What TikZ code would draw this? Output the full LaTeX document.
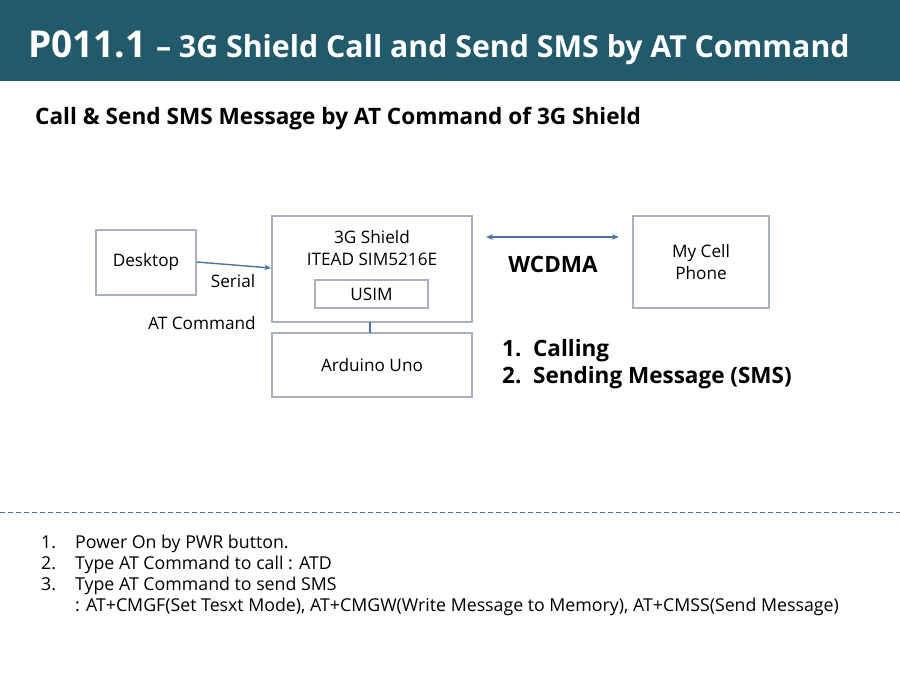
\documentclass[tikz,border=0pt]{standalone}
\usepackage{fontspec}
\setmainfont{Open Sans}
\usetikzlibrary{arrows.meta}
\definecolor{band}{HTML}{235A6B}
\definecolor{boxline}{HTML}{A8B0C0}
\definecolor{arr}{HTML}{4A72A8}
\definecolor{sepcol}{HTML}{4A6E96}
\tikzset{
  blk/.style={draw=boxline, line width=1.8pt, fill=white, inner sep=0pt},
  lbl/.style={inner sep=0pt, font=\fontsize{17.2}{21.5}\selectfont, align=center},
  conn/.style={draw=arr, line width=1.4pt},
  bold/.style={inner sep=0pt, font=\bfseries\fontsize{22.5}{27}\selectfont},
  stepitem/.style={inner sep=0pt, anchor=base west, font=\fontsize{17.75}{21}\selectfont}
}
\begin{document}
\begin{tikzpicture}[x=1pt,y=-1pt]
\useasboundingbox (0,0) rectangle (900,673);
\fill[white] (0,0) rectangle (900,673);
\fill[band] (0,0) rectangle (900,81);
\node[anchor=base west, inner sep=0pt, text=white, font=\bfseries] (title) at (28,57)
  {{\fontsize{37}{40}\selectfont P011.1}\,{\fontsize{30.3}{34}\selectfont \ – 3G Shield Call and Send SMS by AT Command}};
\node[anchor=base west, inner sep=0pt, font=\bfseries\fontsize{22.6}{26}\selectfont] (sub) at (35,124)
  {Call \& Send SMS Message by AT Command of 3G Shield};

% boxes
\node[blk, minimum width=100pt, minimum height=65pt] (desk) at (146,262.5) {};
\node[lbl] at (desk.center) {Desktop};
\node[blk, minimum width=200pt, minimum height=106pt] (shield) at (372,269) {};
\node[lbl] (shieldtxt) at (372,248) {3G Shield\\ITEAD SIM5216E};
\node[blk, minimum width=113pt, minimum height=28pt] (usim) at (371.5,294) {};
\node[lbl] at (usim.center) {USIM};
\node[blk, minimum width=200pt, minimum height=64pt] (ard) at (372,365) {};
\node[lbl] at (ard.center) {Arduino Uno};
\node[blk, minimum width=136pt, minimum height=92pt] (phone) at (701,262) {};
\node[lbl] at (phone.center) {My Cell\\Phone};

% connectors
\draw[conn, -{Stealth[length=7pt,width=5.5pt]}] (desk.east |- 0,262) -- (shield.west |- 0,268);
\draw[conn] (370,322) -- (370,333);
\coordinate (wl) at (486,237);
\coordinate (wr) at (619,237);
\draw[conn, {Stealth[length=7pt,width=5.5pt]}-{Stealth[length=7pt,width=5.5pt]}] (wl) -- (wr);

% labels
\node[lbl] (serial) at (233,281) {Serial};
\node[lbl] (atcmd) at (202,323) {AT Command};
\node[bold] (wcdma) at (553,264) {WCDMA};
\node[bold, anchor=west] (i1) at (502,351) {1.\ \ Calling};
\node[bold, anchor=west] (i2) at (502,378) {2.\ \ Sending Message\ (SMS)};

% dashed separator
\draw[sepcol, line width=1pt, dash pattern=on 5pt off 3pt] (0,512) -- (900,512);

% steps
\node[stepitem] (n1) at (41,548) {1.};
\node[stepitem] (t1) at (75,548) {Power On by PWR button.};
\node[stepitem] (n2) at (41,569) {2.};
\node[stepitem] (t2) at (75,569) {Type AT Command to call : ATD};
\node[stepitem] (n3) at (41,590) {3.};
\node[stepitem] (t3) at (75,590) {Type AT Command to send SMS};
\node[stepitem] (t4) at (75,611) {: AT+CMGF(Set Tesxt Mode), AT+CMGW(Write Message to Memory), AT+CMSS(Send Message)};
\end{tikzpicture}
\end{document}
